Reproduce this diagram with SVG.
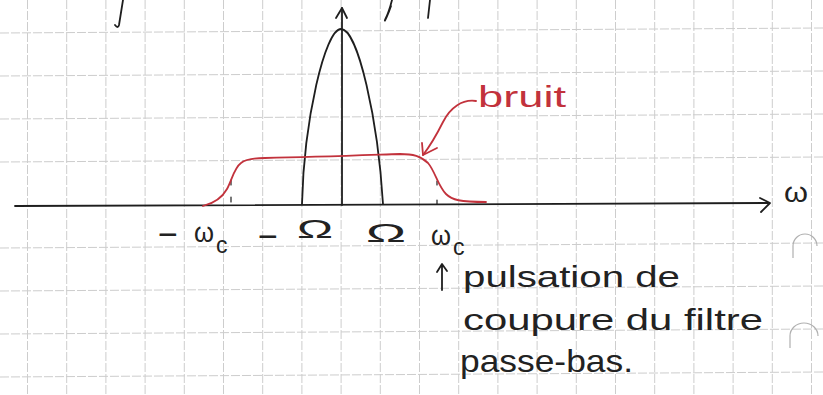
<svg xmlns="http://www.w3.org/2000/svg" width="823" height="395" viewBox="0 0 823 395">
<style>
.grid line{stroke:#cdcdcd;stroke-width:1;stroke-dasharray:9 2}
.ink{fill:none;stroke:#1e1e1e;stroke-width:1.8;stroke-linecap:round;stroke-linejoin:round}
.red{fill:none;stroke:#c2323c;stroke-width:1.8;stroke-linecap:round;stroke-linejoin:round}
.t{font-family:"Liberation Sans",Arial,sans-serif;fill:#222222}
.tr{font-family:"Liberation Sans",Arial,sans-serif;fill:#c2323c}
.hole{fill:none;stroke:#b0b0b0;stroke-width:1.2}
</style>
<rect width="823" height="395" fill="#ffffff"/>
<g id="grid" class="grid">
<line x1="0" y1="33" x2="823" y2="28"/>
<line x1="0" y1="76" x2="823" y2="71"/>
<line x1="0" y1="119" x2="823" y2="114"/>
<line x1="0" y1="162" x2="823" y2="157"/>
<line x1="0" y1="248" x2="823" y2="243"/>
<line x1="0" y1="291" x2="823" y2="286"/>
<line x1="0" y1="334" x2="823" y2="329"/>
<line x1="0" y1="377" x2="823" y2="372"/>
<line x1="27.5" y1="0" x2="27.5" y2="395"/>
<line x1="66.7" y1="0" x2="66.7" y2="395"/>
<line x1="105.9" y1="0" x2="105.9" y2="395"/>
<line x1="145.1" y1="0" x2="145.1" y2="395"/>
<line x1="184.3" y1="0" x2="184.3" y2="395"/>
<line x1="223.5" y1="0" x2="223.5" y2="395"/>
<line x1="262.7" y1="0" x2="262.7" y2="395"/>
<line x1="301.9" y1="0" x2="301.9" y2="395"/>
<line x1="341.1" y1="0" x2="341.1" y2="395"/>
<line x1="380.3" y1="0" x2="380.3" y2="395"/>
<line x1="419.5" y1="0" x2="419.5" y2="395"/>
<line x1="458.7" y1="0" x2="458.7" y2="395"/>
<line x1="497.9" y1="0" x2="497.9" y2="395"/>
<line x1="537.1" y1="0" x2="537.1" y2="395"/>
<line x1="576.3" y1="0" x2="576.3" y2="395"/>
<line x1="615.5" y1="0" x2="615.5" y2="395"/>
<line x1="654.7" y1="0" x2="654.7" y2="395"/>
<line x1="693.9" y1="0" x2="693.9" y2="395"/>
<line x1="733.1" y1="0" x2="733.1" y2="395"/>
<line x1="772.3" y1="0" x2="772.3" y2="395"/>
<line x1="811.5" y1="0" x2="811.5" y2="395"/>
</g>
<g id="paper-marks">
<path class="hole" d="M793,258 L793,246 A12,12 0 0 1 817,246"/>
<path class="hole" d="M790,348 L790,336 A14,13 0 0 1 818,336"/>
</g>
<g id="top-fragments" class="ink">
<path d="M123,0 L119,25 Q118,29 115,25"/>
<path d="M392,0 C390,8 387,16 385,20 C384,23 388,15 391,6"/>
<path d="M430,0 L428,18"/>
</g>
<g id="axes" class="ink">
<path d="M15,206 L768,203"/>
<path d="M760,198 L770,203 L761,212"/>
<path d="M342,205 L342,8"/>
<path d="M336,18 L342,8 L347,18"/>
<path d="M231,180 L231,205" stroke-width="1.2" stroke-dasharray="5 12"/>
<path d="M437,181 L437,217" stroke-width="1.2" stroke-dasharray="4 15"/>
</g>
<g id="signal" class="ink">
<path d="M302,204 C304,120 325,29 341,29 C358,29 378,120 383,204"/>
</g>
<g id="noise" class="red">
<path d="M203,206 C215,203 222,198 227,189 C232,180 234,168 241,163 C246,159 253,158 265,158 C320,157 370,155 400,154 C413,154 421,156 428,163 C435,171 438,186 446,194 C452,200 460,202 486,202"/>
</g>
<g id="connectors">
<path class="red" d="M476,101 C462,99 450,108 443,122 C436,136 430,146 423,155"/>
<path class="red" d="M422,143 L423,155 L437,148"/>
<path class="ink" d="M442,290 L442,265 M437,272 L442,264 L447,271"/>
</g>
<g id="label-bruit">
<text class="tr" x="478" y="107" font-size="30" textLength="88" lengthAdjust="spacingAndGlyphs">bruit</text>
</g>
<g id="label-omega-axis">
<text class="t" x="784" y="202" font-size="28" textLength="24" lengthAdjust="spacingAndGlyphs">ω</text>
</g>
<g id="tick-labels">
<text class="t" x="158" y="246" font-size="34">−</text>
<text class="t" x="194" y="242" font-size="27" textLength="20" lengthAdjust="spacingAndGlyphs">ω</text>
<text class="t" x="216" y="253" font-size="23">c</text>
<text class="t" x="258" y="248" font-size="34">−</text>
<text class="t" x="297" y="238" font-size="26" textLength="36" lengthAdjust="spacingAndGlyphs">Ω</text>
<text class="t" x="366" y="242" font-size="26" textLength="40" lengthAdjust="spacingAndGlyphs">Ω</text>
<text class="t" x="431" y="245" font-size="27" textLength="20" lengthAdjust="spacingAndGlyphs">ω</text>
<text class="t" x="453" y="255" font-size="23">c</text>
</g>
<g id="annotation">
<text class="t" x="463" y="287" font-size="30" textLength="217" lengthAdjust="spacingAndGlyphs">pulsation de</text>
<text class="t" x="463" y="330" font-size="30" textLength="300" lengthAdjust="spacingAndGlyphs">coupure du filtre</text>
<text class="t" x="460" y="372" font-size="32" textLength="173" lengthAdjust="spacingAndGlyphs">passe-bas.</text>
</g>
</svg>
